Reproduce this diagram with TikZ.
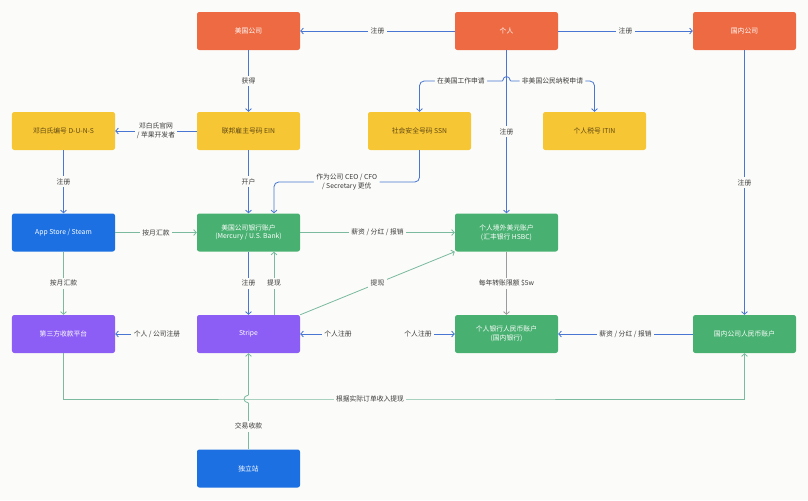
\documentclass[tikz,border=0pt]{standalone}
\usepackage{fontspec}
\setmainfont{Noto Sans CJK SC}
\usepackage{tikz}
\usetikzlibrary{arrows.meta,calc}
\definecolor{fOrange}{RGB}{238,106,66}
\definecolor{fYellow}{RGB}{247,198,52}
\definecolor{fBlue}{RGB}{28,112,226}
\definecolor{fGreen}{RGB}{72,176,112}
\definecolor{fPurple}{RGB}{140,94,246}
\definecolor{fBg}{RGB}{251,252,249}
\definecolor{fLineBlue}{RGB}{72,118,210}
\definecolor{fLineGreen}{RGB}{124,186,160}
\definecolor{fLineGray}{RGB}{155,155,155}
\definecolor{fText}{RGB}{60,60,60}
\definecolor{fYText}{RGB}{95,72,20}

\begin{document}
\begin{tikzpicture}[x=0.03cm, y=-0.03cm, font=\fontsize{5.8}{7.5}\selectfont,
  box/.style={rounded corners=2pt, minimum width=3.09cm, minimum height=1.14cm, align=center, text=white},
  orangebox/.style={box, fill=fOrange},
  yellowbox/.style={box, fill=fYellow, text=fYText},
  bluebox/.style={box, fill=fBlue},
  greenbox/.style={box, fill=fGreen},
  purplebox/.style={box, fill=fPurple},
  lbl/.style={fill=fBg, inner sep=2pt, text=fText, align=center},
  tip/.style={-{Straight Barb[length=2.2pt,width=5pt]}},
  bl/.style={draw=fLineBlue, line width=0.7pt, tip},
  gl/.style={draw=fLineGreen, line width=0.7pt, tip},
  gy/.style={draw=fLineGray, line width=0.7pt, tip}]

  \fill[fBg] (0,0) rectangle (808,500);

  \node[orangebox] (uscorp) at (248.5,31) {美国公司};
  \node[orangebox] (person) at (506.5,31) {个人};
  \node[orangebox] (cncorp) at (744.5,31) {国内公司};

  \node[yellowbox] (duns) at (63.5,131) {邓白氏编号 D-U-N-S};
  \node[yellowbox] (ein)  at (248.5,131) {联邦雇主号码 EIN};
  \node[yellowbox] (ssn)  at (419.5,131) {社会安全号码 SSN};
  \node[yellowbox] (itin) at (594.5,131) {个人税号 ITIN};

  \node[bluebox]  (appstore) at (63.5,232.5) {App Store / Steam};
  \node[greenbox] (usbank)   at (248.5,232.5) {美国公司银行账户\\(Mercury / U.S. Bank)};
  \node[greenbox] (hsbc)     at (506.5,232.5) {个人境外美元账户\\(汇丰银行 HSBC)};

  \node[purplebox] (third)  at (63.5,334) {第三方收款平台};
  \node[purplebox] (stripe) at (248.5,334) {Stripe};
  \node[greenbox]  (rmb)    at (506.5,334) {个人银行人民币账户\\(国内银行)};
  \node[greenbox]  (cnrmb)  at (744.5,334) {国内公司人民币账户};

  \node[bluebox] (duli) at (248.5,468.5) {独立站};

  \draw[bl] (person) -- (uscorp) node[lbl,midway] {注册};
  \draw[bl] (person) -- (cncorp) node[lbl,midway] {注册};
  \draw[bl] (uscorp) -- (ein) node[lbl,midway] {获得};
  \draw[bl] (ein) -- (duns) node[lbl,midway] {邓白氏官网\\/ 苹果开发者};
  \draw[bl] (duns) -- (appstore) node[lbl,midway] {注册};
  \draw[bl] (ein) -- (usbank) node[lbl,midway] {开户};
  \draw[bl] (person) -- (hsbc) node[lbl,midway] {注册};
  \draw[bl] (cncorp) -- (cnrmb) node[lbl,midway] {注册};

  \coordinate (jl) at (502.5,81);
  \coordinate (jr) at (510.5,81);
  \draw[bl, rounded corners=4pt] (jl) -| (ssn.north) node[lbl,pos=0.25] {在美国工作申请};
  \draw[bl, rounded corners=4pt] (jr) -| (itin.north) node[lbl,pos=0.25] {非美国公民纳税申请};
  \draw[fLineBlue, line width=0.7pt] (jl) .. controls +(1,-6) and +(-1,-6) .. (jr);

  \coordinate (ceo) at (274,182);
  \draw[bl, rounded corners=4pt] (ssn.south) |- (ceo) node[lbl,pos=0.75] {作为公司 CEO / CFO\\/ Secretary 更优} -- (ceo |- usbank.north);

  \draw[gl] (appstore) -- (usbank) node[lbl,midway] {按月汇款};
  \draw[gl] (appstore) -- (third) node[lbl,midway] {按月汇款};
  \draw[gl] (usbank) -- (hsbc) node[lbl,midway] {薪资 / 分红 / 报销};
  \draw[bl] (usbank) -- (stripe) node[lbl,midway] {注册};
  \draw[gl] ([xshift=0.765cm]stripe.north) -- ([xshift=0.765cm]usbank.south) node[lbl,midway] {提现};
  \draw[gl] (stripe.north east) -- (hsbc.south west) node[lbl,midway] {提现};
  \draw[gy] (hsbc) -- (rmb) node[lbl,midway] {每年转账限额 \$5w};
  \draw[bl] (cnrmb) -- (rmb) node[lbl,midway] {薪资 / 分红 / 报销};

  \node[lbl] (regthird)  at (157,334) {个人 / 公司注册};
  \node[lbl] (regstripe) at (338,334) {个人注册};
  \node[lbl] (regrmb)    at (418,334) {个人注册};
  \draw[bl] (regthird) -- (third);
  \draw[bl] (regstripe) -- (stripe);
  \draw[bl] (regrmb) -- (rmb);

  \coordinate (payout) at (370,399);
  \draw[gl] (third.south) |- (payout) node[lbl] {根据实际订单收入提现} -| (cnrmb.south);

  \coordinate (jb) at (248.5,403);
  \coordinate (jt) at (248.5,395);
  \draw[fLineGreen, line width=0.7pt] (duli.north) -- (jb) node[lbl,midway] {交易收款};
  \draw[fLineGreen, line width=0.7pt] (jb) .. controls +(-6,-1) and +(-6,1) .. (jt);
  \draw[gl] (jt) -- (stripe.south);
\end{tikzpicture}
\end{document}
